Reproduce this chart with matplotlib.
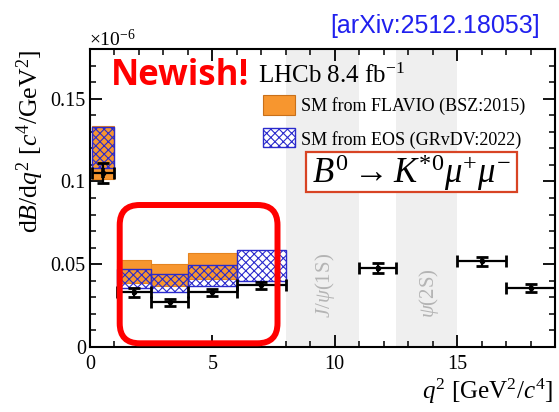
import numpy as np
import matplotlib
matplotlib.use("Agg")
import matplotlib.pyplot as plt
from matplotlib.patches import FancyBboxPatch, Rectangle
from matplotlib.transforms import IdentityTransform
from matplotlib.ticker import MultipleLocator, FuncFormatter

plt.rcParams['font.family'] = ['Liberation Serif', 'DejaVu Serif']
plt.rcParams['mathtext.fontset'] = 'custom'
plt.rcParams['mathtext.rm'] = 'Liberation Serif'
plt.rcParams['mathtext.it'] = 'Liberation Serif:italic'
plt.rcParams['mathtext.bf'] = 'Liberation Serif:bold'
plt.rcParams['hatch.linewidth'] = 0.8

# ---------------- data (units of 1e-6) ----------------
bin_lo = [0.1, 1.1, 2.5, 4.0, 6.0, 11.0, 15.0, 17.0]
bin_hi = [0.98, 2.5, 4.0, 6.0, 8.0, 12.5, 17.0, 19.0]
data_val = [0.105, 0.0330, 0.0270, 0.0330, 0.0372, 0.0476, 0.0518, 0.0358]
data_err = [0.0060, 0.0028, 0.0020, 0.0020, 0.0020, 0.0030, 0.0027, 0.0025]

flavio_lo = [0.1014, 0.0388, 0.0370, 0.0412]
flavio_hi = [0.1337, 0.0525, 0.0503, 0.0570]
eos_lo = [0.1080, 0.0354, 0.0330, 0.0370, 0.0400]
eos_hi = [0.1330, 0.0469, 0.0442, 0.0495, 0.0588]

veto_regions = [(8.0, 11.0), (12.5, 15.0)]
veto_labels = [r"$J/\psi$(1S)", r"$\psi$(2S)"]

W, H = 559, 412
def fx(x):
    return x / W
def fy(y):
    return 1 - y / H

fig = plt.figure(figsize=(W / 100, H / 100), dpi=100)
ax = fig.add_axes([fx(90), fy(347), fx(555) - fx(90), fy(49) - fy(347)])

lo = np.array(bin_lo); hi = np.array(bin_hi)
cen = (lo + hi) / 2; wid = hi - lo

# veto bands
for (a, b), lab in zip(veto_regions, veto_labels):
    ax.axvspan(a, b, color='#efefef', zorder=0, lw=0)
    ax.text((a + b) / 2 + 0.1, 0.0175, lab, rotation=90, ha='center', va='bottom',
            color='#b4b4b4', fontsize=15, zorder=1)

# FLAVIO
n_f = len(flavio_lo)
ax.bar(cen[:n_f], np.array(flavio_hi) - np.array(flavio_lo), bottom=flavio_lo,
       width=wid[:n_f], color='#f7962f', edgecolor='#e58420', lw=0.8, zorder=2)
# EOS
n_e = len(eos_lo)
ax.bar(cen[:n_e], np.array(eos_hi) - np.array(eos_lo), bottom=eos_lo,
       width=wid[:n_e], facecolor='none', edgecolor='#2a2acc', hatch='xxxx', lw=1.0, zorder=3)

# data
ax.errorbar(cen, data_val, xerr=wid / 2, yerr=data_err, fmt='o', ms=3, color='k',
            elinewidth=1.6, capsize=4.5, capthick=2.0, zorder=5)
ax.errorbar(cen, data_val, yerr=np.array(data_err) * 0.5, fmt='none', color='k',
            elinewidth=2.6, capsize=0, zorder=5)

ax.set_xlim(0, 19)
ax.set_ylim(0, 0.18)
ax.xaxis.set_major_locator(MultipleLocator(5))
ax.xaxis.set_minor_locator(MultipleLocator(1))
ax.yaxis.set_major_locator(MultipleLocator(0.05))
ax.yaxis.set_minor_locator(MultipleLocator(0.01))
ax.yaxis.set_major_formatter(FuncFormatter(lambda v, p: '%g' % round(v, 4)))
ax.tick_params(which='both', direction='in', top=True, right=True, labelsize=14.5)
ax.tick_params(which='major', length=8.5, width=1.3)
ax.tick_params(which='minor', length=4.5, width=1.1)
ax.tick_params(axis='x', pad=6)
ax.tick_params(axis='y', pad=3)
for s in ax.spines.values():
    s.set_linewidth(1.5)

# axis labels
fig.text(fx(553), fy(399), r"$q^2$ [GeV$^2$/$c^4$]", ha='right', va='baseline', fontsize=18)
fig.text(fx(38), fy(50), r"d$B$/d$q^2$ [$c^4$/GeV$^2$]", rotation=90, rotation_mode='anchor',
         ha='right', va='baseline', fontsize=18.5)
fig.text(fx(89), fy(46.5), r"$\times$10$^{-6}$", ha='left', va='baseline', fontsize=14)

# annotations
fig.text(fx(540), fy(33), "[arXiv:2512.18053]", ha='right', va='baseline', fontsize=18,
         color='#2020ee', family='Liberation Sans')
fig.text(fx(111), fy(85), "Newish!", ha='left', va='baseline', fontsize=25,
         color='#ff0000', family='Open Sans', weight='bold')
fig.text(fx(258), fy(83), r"LHCb 8.4 fb$^{-1}$", ha='left', va='baseline', fontsize=18)

# legend
fig.patches.append(Rectangle((fx(263), fy(115)), fx(295) - fx(263), fy(95) - fy(115),
                             transform=fig.transFigure, facecolor='#f7962f', edgecolor='#c8701a', lw=0.8))
fig.patches.append(Rectangle((fx(263), fy(147)), fx(295) - fx(263), fy(128) - fy(147),
                             transform=fig.transFigure, facecolor='white', edgecolor='#2a2acc',
                             hatch='xxxx', lw=1.0))
fig.text(fx(301), fy(106), "SM from FLAVIO (BSZ:2015)", ha='left', va='center', fontsize=13)
fig.text(fx(301), fy(140), "SM from EOS (GRvDV:2022)", ha='left', va='center', fontsize=13)

# decay box
fig.patches.append(Rectangle((fx(306), fy(192.5)), fx(516.5) - fx(306), fy(152) - fy(192.5),
                             transform=fig.transFigure, facecolor='white', edgecolor='#d84424', lw=1.6))
fig.text(fx(411), fy(183), r"$B^0 \rightarrow K^{*0}\mu^{+}\mu^{-}$", ha='center', va='baseline',
         fontsize=25)

# red rounded rectangle (pixel coords)
rr = FancyBboxPatch((119.7, H - 343.3), 277.5 - 119.7, 343.3 - 205,
                    boxstyle="round,pad=0,rounding_size=20", transform=IdentityTransform(),
                    facecolor='none', edgecolor='#ff0000', lw=4.3, zorder=10)
fig.patches.append(rr)

fig.savefig("out.png", dpi=100)
